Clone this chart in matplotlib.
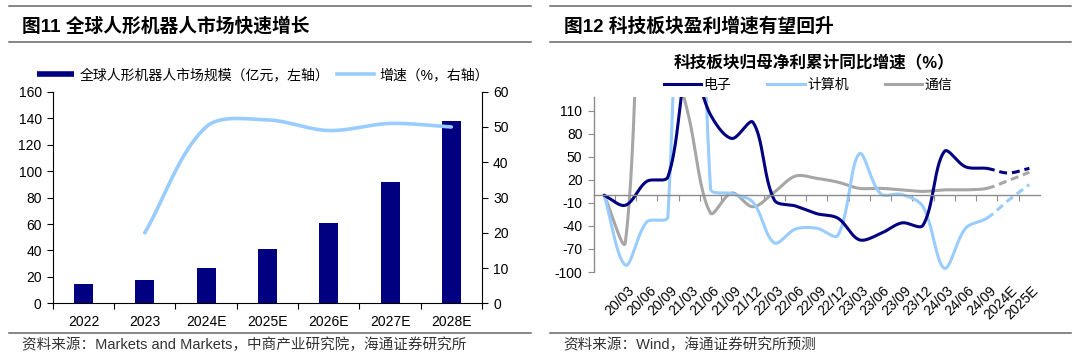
import numpy as np
import matplotlib
matplotlib.use('Agg')
import matplotlib.pyplot as plt
from matplotlib.lines import Line2D

plt.rcParams['font.family'] = ['Liberation Sans', 'Noto Sans CJK SC', 'DejaVu Sans']
plt.rcParams['axes.unicode_minus'] = False

# 图11 数据
years = ['2022', '2023', '2024E', '2025E', '2026E', '2027E', '2028E']
market_size = [15, 18, 27, 41, 61, 92, 138]
growth = [np.nan, 20, 50, 52, 49, 51, 50]

# 图12 数据（第一个点为起点 0）
periods = ['', '20/03', '20/06', '20/09', '21/03', '21/06', '21/09', '21/12',
           '22/03', '22/06', '22/09', '22/12', '23/03', '23/06', '23/09',
           '23/12', '24/03', '24/06', '24/09', '2024E', '2025E']
electronics = [0, -13, 18, 24, 175, 105, 74, 95, -6, -14, -24, -30, -58, -50,
               -36, -39, 57, 37, 35, 29, 35]
computer = [0, -91, -35, -28, 1000, 9, 2, -9, -62, -44, -43, -52, 54, 2, 1,
            -15, -95, -43, -30, -7, 14]
telecom = [0, -61, 450, 220, 100, -23, 3, -15, 4, 25, 22, 17, 9, 9, 7, 5, 7,
           7, 9, 19, 30]
last_actual = 18  # 24/09 之后为预测

NAVY = '#000080'
LIGHT = '#99CCFF'
GREY = '#A6A6A6'
W, H = 1080, 357


def fx(x):
    return x / W


def fy(y):
    return 1 - y / H


def excel_smooth(ax, xs, ys, tension=1 / 3, steps=60):
    # 类似 Excel 平滑线：在屏幕坐标里做三次贝塞尔
    pts = ax.transData.transform(np.column_stack([xs, ys]))
    n = len(pts)
    segs = []
    t = np.linspace(0, 1, steps)[:, None]
    for i in range(n - 1):
        p0 = pts[max(i - 1, 0)]
        p1, p2 = pts[i], pts[i + 1]
        p3 = pts[min(i + 2, n - 1)]
        d01 = np.hypot(*(p1 - p0))
        d12 = np.hypot(*(p2 - p1))
        d23 = np.hypot(*(p3 - p2))
        c1 = p1 + tension * d12 / (d01 + d12) * (p2 - p0)
        c2 = p2 - tension * d12 / (d12 + d23) * (p3 - p1)
        seg = (1 - t) ** 3 * p1 + 3 * (1 - t) ** 2 * t * c1 + 3 * (1 - t) * t ** 2 * c2 + t ** 3 * p2
        segs.append(ax.transData.inverted().transform(seg))
    return segs


fig = plt.figure(figsize=(W / 100, H / 100), dpi=100)

# ---------- 左图 ----------
ax = fig.add_axes([fx(52.8), fy(303.4), fx(429.2), 211.7 / H])
ax2 = ax.twinx()
x = np.arange(len(years))
ax.bar(x, market_size, width=0.31, color=NAVY, zorder=2)
ax.set_xlim(-0.5, len(years) - 0.5)
ax.set_ylim(0, 160)
ax.set_yticks(np.arange(0, 161, 20))
ax2.set_ylim(0, 60)
ax2.set_yticks(np.arange(0, 61, 10))
ax.set_xticks(x)
ax.set_xticklabels(years)
ax.set_xticks(np.arange(-0.5, len(years)), minor=True)
ax.tick_params(axis='x', which='major', length=0, pad=8, labelsize=10)
ax.tick_params(axis='x', which='minor', length=4, width=0.8, direction='out')
ax.tick_params(axis='y', length=4, width=0.8, labelsize=10, pad=4)
ax2.tick_params(axis='y', length=4, width=0.8, labelsize=10, pad=4)
for a in (ax, ax2):
    a.spines['top'].set_visible(False)
ax.spines['right'].set_visible(False)
ax2.spines['left'].set_visible(False)
ax2.spines['bottom'].set_visible(False)
for a in (ax, ax2):
    for s in a.spines.values():
        s.set_linewidth(0.8)

gx = [i for i, g in enumerate(growth) if not np.isnan(g)]
gy = [g for g in growth if not np.isnan(g)]
curve = np.vstack(excel_smooth(ax2, gx, gy))
ax2.plot(curve[:, 0], curve[:, 1], color=LIGHT, lw=2.6, solid_capstyle='round')

h1 = [Line2D([], [], color=NAVY, lw=4, solid_capstyle='butt'),
      Line2D([], [], color=LIGHT, lw=2.6)]
fig.legend(h1, ['全球人形机器人市场规模（亿元，左轴）', '增速（%，右轴）'],
           loc='center', bbox_to_anchor=(fx(263), fy(75)), ncol=2, frameon=False,
           fontsize=10, handlelength=2.7, handletextpad=0.4, columnspacing=0.5)

# ---------- 右图 ----------
bx = fig.add_axes([fx(593.5), fy(272), fx(446.5), 175 / H])
bx.set_xlim(-0.5, len(periods) - 0.5)
bx.set_ylim(-100, 128)
bx.set_yticks(np.arange(-100, 111, 30))
bx.spines['top'].set_visible(False)
bx.spines['right'].set_visible(False)
bx.spines['bottom'].set_position(('data', 0))
for s in ('left', 'bottom'):
    bx.spines[s].set_color('#8C8C8C')
    bx.spines[s].set_linewidth(1.0)
bx.set_xticks(np.arange(0.5, len(periods) - 1, 1))
bx.set_xticklabels([])
bx.tick_params(axis='x', length=4, width=0.8, color='#8C8C8C', direction='out')
bx.tick_params(axis='y', length=4, width=0.8, color='#8C8C8C', labelsize=10, pad=4)
for i, lab in enumerate(periods):
    bx.text(i + 0.1, -0.065, lab, transform=bx.get_xaxis_transform(), rotation=45,
            rotation_mode='anchor', ha='right', va='top', fontsize=10)

xs = np.arange(len(periods))
for series, col in ((telecom, GREY), (computer, LIGHT), (electronics, NAVY)):
    segs = excel_smooth(bx, xs, series)
    solid = np.vstack(segs[:last_actual])
    dash = np.vstack(segs[last_actual:])
    bx.plot(solid[:, 0], solid[:, 1], color=col, lw=2.2, solid_capstyle='round')
    bx.plot(dash[:, 0], dash[:, 1], color=col, lw=2.2, linestyle=(0, (2.6, 1.6)))

h2 = [Line2D([], [], color=c, lw=2.2) for c in (NAVY, LIGHT, GREY)]
fig.legend(h2, ['电子', '计算机', '通信'], loc='center',
           bbox_to_anchor=(fx(808), fy(84.5)), ncol=3, frameon=False, fontsize=10,
           handlelength=2.7, handletextpad=0.15, columnspacing=2.6)
fig.text(fx(814), fy(63.8), '科技板块归母净利累计同比增速（%）', ha='center', va='center',
         fontsize=12, fontweight='bold')

# ---------- 标题、分隔线、来源 ----------
for x0, x1, title, src in ((8.6, 531, '图11 全球人形机器人市场快速增长',
                             '资料来源：Markets and Markets，中商产业研究院，海通证券研究所'),
                            (550, 1071, '图12 科技板块盈利增速有望回升',
                             '资料来源：Wind，海通证券研究所预测')):
    for yy in (5.9, 42, 332.6):
        fig.add_artist(Line2D([fx(x0), fx(x1)], [fy(yy), fy(yy)], color='#666666', lw=1.1))
    fig.text(fx(x0 + 13.8), fy(25.9), title, ha='left', va='center', fontsize=13.5,
             fontweight='bold')
    fig.text(fx(x0 + 13.5), fy(344.8), src, ha='left', va='center', fontsize=10.5,
             color='#333333')

fig.savefig('out.png', dpi=100)
